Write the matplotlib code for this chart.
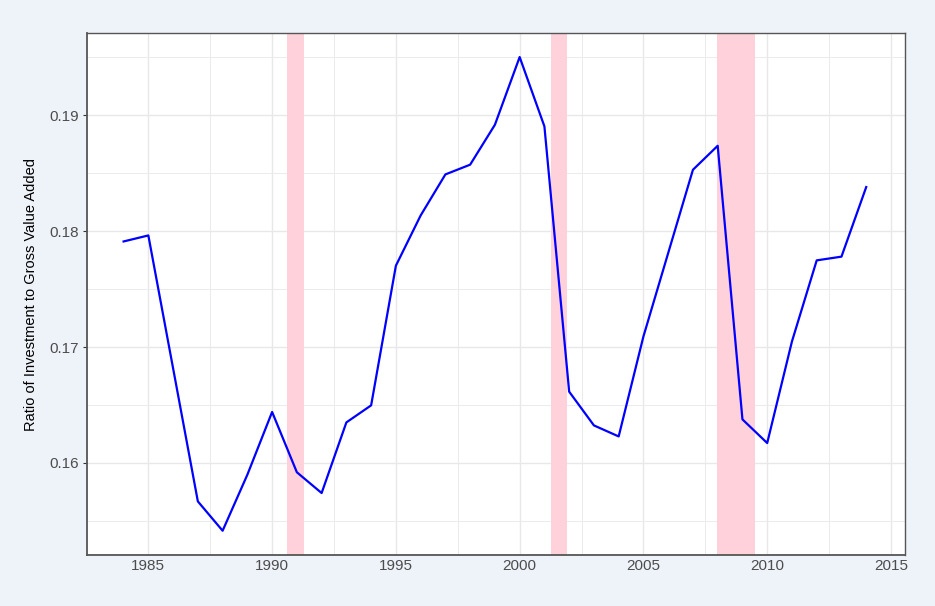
import matplotlib
matplotlib.use("Agg")
import matplotlib.pyplot as plt
from matplotlib.ticker import MultipleLocator

years = list(range(1984, 2015))
ratio = [0.17910, 0.17962, 0.16816, 0.15669, 0.15416, 0.15899, 0.16440, 0.15920,
         0.15741, 0.16350, 0.16497, 0.17701, 0.18134, 0.18488, 0.18572, 0.18916,
         0.19500, 0.18902, 0.16615, 0.16324, 0.16229, 0.17091, 0.17810, 0.18528,
         0.18735, 0.16376, 0.16172, 0.17048, 0.17747, 0.17779, 0.18379]
recession_start = [1990.62, 2001.25, 2007.98]
recession_end = [1991.28, 2001.93, 2009.51]

plt.rcParams['font.family'] = ['Liberation Sans', 'DejaVu Sans']

fig = plt.figure(figsize=(9.35, 6.06), dpi=100)
fig.patch.set_facecolor('#EEF2F9')
ax = fig.add_axes([0.093, 0.0842, 0.875, 0.8613])
ax.set_facecolor('white')

for s, e in zip(recession_start, recession_end):
    ax.axvspan(s, e, facecolor='#FFD1DA', edgecolor='none', zorder=1)

ax.plot(years, ratio, color='#0000FF', lw=1.6, zorder=3)

ax.set_xlim(1982.52, 2015.57)
ax.set_ylim(0.15207, 0.19707)
ax.xaxis.set_major_locator(MultipleLocator(5))
ax.xaxis.set_minor_locator(MultipleLocator(2.5))
ax.yaxis.set_major_locator(MultipleLocator(0.01))
ax.yaxis.set_minor_locator(MultipleLocator(0.005))
ax.grid(which='major', color='#E8E8E8', lw=1.0, zorder=0)
ax.grid(which='minor', color='#EBEBEB', lw=0.7, zorder=0)
ax.set_axisbelow(True)

for sp in ax.spines.values():
    sp.set_color('#555555')
    sp.set_linewidth(1.0)
ax.spines['left'].set_linewidth(1.3)
ax.spines['bottom'].set_linewidth(1.3)

ax.tick_params(axis='x', which='both', length=0, labelsize=11, labelcolor='#4D4D4D', pad=3)
ax.tick_params(axis='y', which='major', length=3, color='#333333', labelsize=11, labelcolor='#4D4D4D', pad=3)
ax.tick_params(axis='y', which='minor', length=0)
ax.yaxis.set_major_formatter(matplotlib.ticker.FuncFormatter(lambda v, p: f"{v:.2f}"))

ax.set_ylabel('Ratio of Investment to Gross Value Added', fontsize=10.5, color='black', labelpad=8)

fig.savefig('out.png', dpi=100, facecolor=fig.get_facecolor())
